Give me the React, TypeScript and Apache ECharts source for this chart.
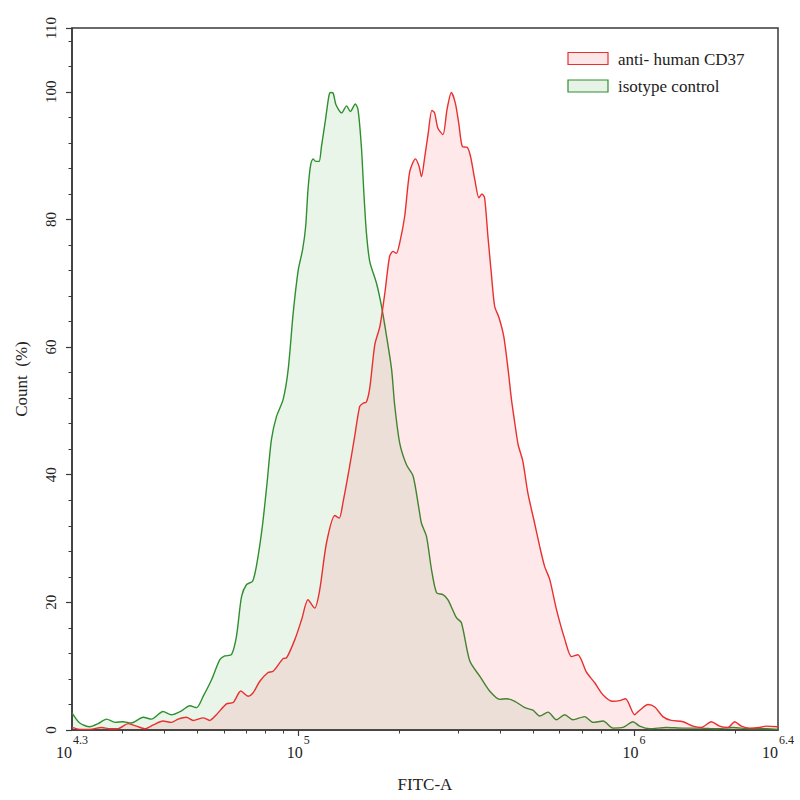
import React, { useEffect, useRef } from "react";
import * as echarts from "echarts";

const seriesNames = ["anti- human CD37", "isotype control"];
const xAxisTitle = "FITC-A";
const yAxisTitle = "Count  (%)";

// x axis in log10(FITC-A) units
const xMinLog = 4.326;
const xMaxLog = 6.429;
const xLabelLogs = [4.326, 5, 6, 6.429];
const xLabelExps = ["4.3", "5", "6", "6.4"];
const xMajorTicks = [5, 6];
const xMinorMultipliers = [2, 3, 4, 5, 6, 7, 8, 9];
const xDecades = [4, 5, 6];

const yMin = 0;
const yMax = 110;
const yLabelValues = [0, 20, 40, 60, 80, 100, 110];
const yMinorStep = 4;

// isotype control (green)
const isotypeLogX = [
  4.326, 4.349, 4.379, 4.404, 4.429, 4.454, 4.478, 4.503, 4.538, 4.563,
  4.597, 4.622, 4.652, 4.677, 4.697, 4.717, 4.742, 4.766, 4.781, 4.801,
  4.816, 4.831, 4.846, 4.864, 4.877, 4.893, 4.907, 4.92, 4.935, 4.955,
  4.97, 4.985, 5.0, 5.013, 5.022, 5.029, 5.037, 5.044, 5.052, 5.062,
  5.069, 5.081, 5.091, 5.096, 5.104, 5.112, 5.129, 5.144, 5.155, 5.17,
  5.178, 5.188, 5.196, 5.203, 5.213, 5.233, 5.248, 5.263, 5.278, 5.287,
  5.302, 5.322, 5.342, 5.36, 5.367, 5.382, 5.397, 5.412, 5.431, 5.446,
  5.471, 5.486, 5.511, 5.541, 5.57, 5.6, 5.62, 5.645, 5.675, 5.699,
  5.719, 5.744, 5.769, 5.794, 5.818, 5.853, 5.878, 5.908, 5.937, 5.967,
  5.997, 6.017, 6.047, 6.096, 6.146, 6.196, 6.245, 6.295, 6.345, 6.394, 6.429,
];
const isotypeCount = [
  2.7, 1.1, 0.5, 1.0, 1.7, 1.2, 1.3, 1.1, 2.0, 1.7,
  2.9, 2.4, 3.0, 3.8, 3.5, 5.3, 7.9, 11.0, 11.6, 11.8,
  14.7, 20.9, 22.8, 23.3, 26.2, 31.9, 38.7, 45.5, 49.1, 51.8,
  56.5, 65.4, 72.1, 75.3, 78.9, 84.7, 88.6, 89.5, 89.1, 89.1,
  91.4, 95.6, 99.3, 99.9, 99.8, 98.0, 96.7, 97.8, 96.9, 98.1,
  97.2, 91.4, 83.6, 77.9, 73.4, 70.0, 66.4, 61.7, 56.5, 51.0,
  45.0, 41.6, 39.8, 34.5, 32.4, 30.3, 25.1, 21.5, 21.2, 20.4,
  17.6, 16.8, 10.8, 8.4, 6.1, 4.8, 4.9, 4.5, 3.5, 3.1,
  2.2, 2.8, 1.6, 2.4, 1.6, 2.1, 1.2, 1.4, 0.3, 0.4,
  1.3, 0.6, 0.2, 0.4, 0.3, 0.3, 0.2, 0.4, 0.2, 0.2, 0.1,
];

// anti-human CD37 (red)
const cd37LogX = [
  4.326, 4.349, 4.379, 4.414, 4.439, 4.463, 4.493, 4.518, 4.543, 4.568,
  4.597, 4.622, 4.642, 4.667, 4.687, 4.717, 4.736, 4.756, 4.786, 4.806,
  4.829, 4.851, 4.865, 4.885, 4.91, 4.925, 4.955, 4.965, 4.99, 5.01,
  5.029, 5.049, 5.064, 5.084, 5.109, 5.122, 5.133, 5.153, 5.168, 5.183,
  5.193, 5.203, 5.213, 5.228, 5.243, 5.258, 5.272, 5.282, 5.292, 5.302,
  5.317, 5.332, 5.349, 5.36, 5.367, 5.377, 5.387, 5.398, 5.406, 5.416,
  5.431, 5.443, 5.456, 5.468, 5.478, 5.489, 5.503, 5.513, 5.526, 5.538,
  5.547, 5.555, 5.565, 5.575, 5.585, 5.598, 5.612, 5.625, 5.635, 5.645,
  5.655, 5.669, 5.684, 5.704, 5.719, 5.734, 5.749, 5.769, 5.794, 5.814,
  5.833, 5.858, 5.883, 5.908, 5.937, 5.957, 5.975, 6.002, 6.017, 6.042,
  6.062, 6.086, 6.111, 6.146, 6.176, 6.201, 6.23, 6.255, 6.28, 6.3,
  6.32, 6.345, 6.374, 6.394, 6.429,
];
const cd37Count = [
  0.4, 0.1, 0.1, 0.4, 0.2, 0.2, 1.0, 0.6, 0.2, 0.8,
  1.4, 1.2, 1.7, 2.0, 1.5, 1.9, 1.5, 2.4, 4.1, 4.3,
  6.1, 5.3, 5.8, 7.6, 9.0, 9.2, 11.2, 11.3, 14.2, 17.3,
  20.4, 19.1, 22.0, 29.3, 33.6, 33.2, 35.6, 41.3, 46.0, 50.7,
  51.2, 51.4, 53.6, 60.4, 63.2, 68.5, 74.2, 75.0, 74.7, 76.3,
  80.5, 87.5, 89.5, 88.3, 86.7, 89.9, 93.5, 97.1, 96.7, 94.3,
  93.3, 97.2, 99.9, 98.2, 95.1, 91.4, 91.3, 89.9, 86.2, 83.4,
  84.0, 83.4, 77.3, 71.6, 66.4, 64.6, 61.7, 56.5, 51.8, 48.1,
  44.7, 42.1, 37.1, 32.4, 28.8, 25.6, 23.6, 18.9, 14.2, 11.5,
  11.8, 9.1, 7.4, 5.5, 4.5, 4.6, 4.9, 2.4, 3.1, 4.0,
  3.6, 2.1, 1.5, 1.3, 0.6, 0.4, 1.3, 0.6, 0.4, 1.3,
  0.6, 0.3, 0.4, 0.6, 0.5,
];

const FONT = '"Liberation Serif", "Times New Roman", serif';
const AXIS_COLOR = "#3a3a3a";
const TEXT_COLOR = "#222";
const RED_LINE = "#e8302f";
const RED_FILL = "rgba(248, 30, 45, 0.1)";
const RED_LEGEND_FILL = "#fde6e8";
const GREEN_LINE = "#2f8f2f";
const GREEN_FILL = "rgba(20, 140, 20, 0.09)";
const GREEN_LEGEND_FILL = "#e6f3e6";

export default function App() {
  const ref = useRef<HTMLDivElement>(null);

  useEffect(() => {
    if (!ref.current) return;
    const chart = echarts.init(ref.current, undefined, { renderer: "svg" });

    const xMinor: number[] = [];
    xDecades.forEach((d) =>
      xMinorMultipliers.forEach((m) => {
        const v = Math.log10(m) + d;
        if (v > xMinLog + 1e-6 && v < xMaxLog - 1e-6) xMinor.push(v);
      })
    );
    const yMinor: number[] = [];
    for (let v = yMinorStep; v < yMax; v += yMinorStep) yMinor.push(v);

    const greenData = isotypeLogX.map((x, i) => [x, isotypeCount[i]]);
    const redData = cd37LogX.map((x, i) => [x, cd37Count[i]]);

    const xFormatter = (v: number) => {
      const i = xLabelLogs.findIndex((t) => Math.abs(t - v) < 1e-6);
      if (i < 0) return "";
      return `{b|10}{s|${xLabelExps[i]}}`;
    };

    const option: any = {
      animation: false,
      backgroundColor: "#ffffff",
      grid: {
        left: 72,
        right: 22,
        top: 28,
        bottom: 70,
        show: true,
        borderColor: AXIS_COLOR,
        borderWidth: 1.5,
        backgroundColor: "transparent",
      },
      xAxis: [
        {
          type: "value",
          min: xMinLog,
          max: xMaxLog,
          position: "bottom",
          name: xAxisTitle,
          nameLocation: "middle",
          nameGap: 46,
          nameTextStyle: { fontFamily: FONT, fontSize: 17, color: TEXT_COLOR },
          axisLine: { show: true, lineStyle: { color: AXIS_COLOR, width: 1.5 } },
          axisTick: {
            show: true,
            customValues: xMajorTicks,
            length: 6,
            lineStyle: { color: AXIS_COLOR, width: 1.2 },
          },
          axisLabel: {
            customValues: xLabelLogs,
            formatter: xFormatter,
            margin: 4,
            color: TEXT_COLOR,
            rich: {
              b: { fontFamily: FONT, fontSize: 16, color: TEXT_COLOR },
              s: {
                fontFamily: FONT,
                fontSize: 12,
                color: TEXT_COLOR,
                padding: [0, 0, 24, 1],
              },
            },
          },
          splitLine: { show: false },
        },
        {
          type: "value",
          min: xMinLog,
          max: xMaxLog,
          position: "bottom",
          axisLine: { show: false },
          axisTick: {
            show: true,
            customValues: xMinor,
            length: 3.5,
            lineStyle: { color: AXIS_COLOR, width: 1 },
          },
          axisLabel: { show: false },
          splitLine: { show: false },
        },
      ],
      yAxis: [
        {
          type: "value",
          min: yMin,
          max: yMax,
          position: "left",
          name: yAxisTitle,
          nameLocation: "middle",
          nameGap: 42,
          nameRotate: 90,
          nameTextStyle: { fontFamily: FONT, fontSize: 17, color: TEXT_COLOR },
          axisLine: { show: true, lineStyle: { color: AXIS_COLOR, width: 1.5 } },
          axisTick: {
            show: true,
            customValues: yLabelValues,
            length: 6,
            lineStyle: { color: AXIS_COLOR, width: 1.2 },
          },
          axisLabel: {
            customValues: yLabelValues,
            rotate: 90,
            margin: 14,
            fontFamily: FONT,
            fontSize: 15,
            color: TEXT_COLOR,
          },
          splitLine: { show: false },
        },
        {
          type: "value",
          min: yMin,
          max: yMax,
          position: "left",
          axisLine: { show: false },
          axisTick: {
            show: true,
            customValues: yMinor,
            length: 3.5,
            lineStyle: { color: AXIS_COLOR, width: 1 },
          },
          axisLabel: { show: false },
          splitLine: { show: false },
        },
      ],
      series: [
        {
          name: seriesNames[1],
          type: "line",
          xAxisIndex: 0,
          yAxisIndex: 0,
          data: greenData,
          showSymbol: false,
          smooth: 0.25,
          lineStyle: { color: GREEN_LINE, width: 1.4 },
          itemStyle: { color: GREEN_LINE },
          areaStyle: { color: GREEN_FILL, opacity: 1 },
          z: 2,
        },
        {
          name: seriesNames[0],
          type: "line",
          xAxisIndex: 0,
          yAxisIndex: 0,
          data: redData,
          showSymbol: false,
          smooth: 0.25,
          lineStyle: { color: RED_LINE, width: 1.4 },
          itemStyle: { color: RED_LINE },
          areaStyle: { color: RED_FILL, opacity: 1 },
          z: 3,
        },
      ],
      graphic: [
        {
          type: "rect",
          shape: { x: 568, y: 52.5, width: 40, height: 12 },
          style: { fill: RED_LEGEND_FILL, stroke: RED_LINE, lineWidth: 1.2 },
        },
        {
          type: "text",
          x: 618,
          y: 59,
          style: {
            text: seriesNames[0],
            fontFamily: FONT,
            fontSize: 17,
            fill: TEXT_COLOR,
            verticalAlign: "middle",
          },
        },
        {
          type: "rect",
          shape: { x: 568, y: 80, width: 40, height: 12 },
          style: { fill: GREEN_LEGEND_FILL, stroke: GREEN_LINE, lineWidth: 1.2 },
        },
        {
          type: "text",
          x: 618,
          y: 86,
          style: {
            text: seriesNames[1],
            fontFamily: FONT,
            fontSize: 17,
            fill: TEXT_COLOR,
            verticalAlign: "middle",
          },
        },
      ],
    };

    chart.setOption(option);
    return () => chart.dispose();
  }, []);

  return (
    <div
      ref={ref}
      style={{ position: "fixed", left: 0, top: 0, width: 800, height: 800, background: "#fff" }}
    />
  );
}
